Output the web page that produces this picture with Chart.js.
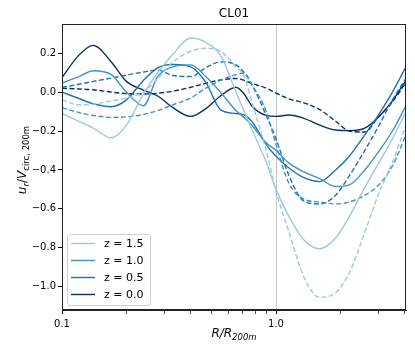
<!DOCTYPE html>
<html>
<head>
<meta charset="utf-8">
<script src="https://cdn.jsdelivr.net/npm/chart.js@4.4.0/dist/chart.umd.min.js"></script>
<style>
  html, body { margin: 0; padding: 0; background: #fff; }
</style>
</head>
<body>
<canvas id="myChart" width="415" height="356"></canvas>
<script>
// Data

var radius = [0.1, 0.12, 0.14, 0.17, 0.2, 0.24, 0.28, 0.33, 0.4, 0.47, 0.55, 0.65, 0.71, 0.77, 0.9, 1.0, 1.15, 1.35, 1.6, 1.9, 2.2, 2.6, 3.0, 3.5, 4.05];

var redshifts = ["1.5", "1.0", "0.5", "0.0"];

var z15Solid = [-0.11, -0.15, -0.185, -0.235, -0.17, -0.01, 0.1, 0.195, 0.278, 0.255, 0.19, 0.0, -0.1, -0.19, -0.36, -0.5, -0.64, -0.76, -0.805, -0.75, -0.64, -0.49, -0.37, -0.24, -0.1];
var z10Solid = [0.046, 0.08, 0.11, 0.09, 0.0, -0.07, 0.08, 0.13, 0.14, 0.08, 0.0, -0.095, -0.13, -0.17, -0.26, -0.3, -0.365, -0.41, -0.445, -0.485, -0.477, -0.4, -0.31, -0.2, -0.07];
var z05Solid = [0.0, -0.033, -0.06, -0.075, -0.04, 0.06, 0.125, 0.142, 0.13, 0.05, -0.09, -0.11, -0.117, -0.15, -0.27, -0.33, -0.39, -0.44, -0.46, -0.4, -0.33, -0.22, -0.12, 0.0, 0.13];
var z00Solid = [0.075, 0.19, 0.24, 0.155, 0.055, 0.01, -0.02, -0.08, -0.125, -0.085, -0.02, 0.025, -0.01, -0.07, -0.12, -0.125, -0.118, -0.135, -0.17, -0.195, -0.198, -0.185, -0.13, -0.045, 0.06];

var z15Dash = [-0.04, -0.065, -0.062, -0.045, -0.03, 0.0, 0.07, 0.155, 0.21, 0.225, 0.21, 0.13, 0.08, -0.05, -0.3, -0.51, -0.72, -0.95, -1.055, -1.03, -0.93, -0.72, -0.53, -0.36, -0.17];
var z10Dash = [-0.08, -0.105, -0.12, -0.13, -0.127, -0.115, -0.095, -0.065, -0.03, 0.02, 0.06, 0.09, 0.098, 0.04, -0.1, -0.27, -0.47, -0.55, -0.565, -0.575, -0.565, -0.53, -0.48, -0.38, -0.22];
var z05Dash = [0.025, 0.04, 0.055, 0.072, 0.087, 0.103, 0.113, 0.085, 0.08, 0.125, 0.155, 0.14, 0.1, 0.04, -0.12, -0.24, -0.43, -0.56, -0.575, -0.53, -0.43, -0.3, -0.18, -0.04, 0.07];
var z00Dash = [0.02, 0.016, 0.012, 0.0, -0.008, -0.01, -0.006, 0.005, 0.025, 0.045, 0.062, 0.07, 0.06, 0.045, 0.02, -0.005, -0.035, -0.055, -0.09, -0.15, -0.2, -0.205, -0.13, -0.05, 0.05];

var yTicks = [-1.0, -0.8, -0.6, -0.4, -0.2, 0.0, 0.2];
var xTicks = [0.1, 0.2, 0.3, 0.4, 0.5, 0.6, 0.7, 0.8, 0.9, 1, 2, 3, 4];
var xLabels = { "0.1": "0.1", "1": "1.0" };

var colors = ['#9cc9e1', '#4292c6', '#2171b5', '#08306b'];

var solidSeries = [z15Solid, z10Solid, z05Solid, z00Solid];
var dashSeries = [z15Dash, z10Dash, z05Dash, z00Dash];

function toPoints(arr) {
  return arr.map(function(v, i) { return { x: radius[i], y: v }; });
}

var datasets = [];
for (var i = 0; i < 4; i++) {
  datasets.push({
    label: 'z = ' + redshifts[i],
    data: toPoints(solidSeries[i]),
    borderColor: colors[i],
    borderWidth: 1.4,
    pointRadius: 0,
    cubicInterpolationMode: 'monotone',
    fill: false
  });
  datasets.push({
    label: '_dash' + i,
    data: toPoints(dashSeries[i]),
    borderColor: colors[i],
    borderWidth: 1.4,
    borderDash: [5, 2.5],
    pointRadius: 0,
    cubicInterpolationMode: 'monotone',
    fill: false
  });
}

// Extras: title, axis titles, frame, x=1 line, legend

var FONT = '"DejaVu Sans", sans-serif';

var extras = {
  id: 'extras',
  beforeDatasetsDraw: function(chart) {
    var ctx = chart.ctx, a = chart.chartArea;
    var x1 = chart.scales.x.getPixelForValue(1);
    ctx.save();
    ctx.strokeStyle = '#c4c4c4';
    ctx.lineWidth = 1;
    ctx.beginPath();
    ctx.moveTo(Math.round(x1) + 0.5, a.top);
    ctx.lineTo(Math.round(x1) + 0.5, a.bottom);
    ctx.stroke();
    ctx.restore();
  },
  afterDraw: function(chart) {
    var ctx = chart.ctx, a = chart.chartArea;
    ctx.save();

    // frame
    ctx.strokeStyle = '#222';
    ctx.lineWidth = 1;
    ctx.strokeRect(a.left + 0.5, a.top + 0.5, a.right - a.left - 1, a.bottom - a.top - 1);

    // title
    ctx.fillStyle = '#000';
    ctx.font = '12px ' + FONT;
    ctx.textAlign = 'center';
    ctx.textBaseline = 'alphabetic';
    ctx.fillText('CL01', (a.left + a.right) / 2, 17);

    // x axis title  R/R_200m
    var cx = (a.left + a.right) / 2;
    var parts = [
      { t: 'R/R', f: 'italic 12px ' + FONT, dy: 0 },
      { t: '200m', f: 'italic 8.5px ' + FONT, dy: 3 }
    ];
    drawParts(ctx, parts, cx, 337);

    // y axis title  u_r / V_circ,200m
    ctx.translate(22, 160);
    ctx.rotate(-Math.PI / 2);
    var yparts = [
      { t: 'u', f: 'italic 12px ' + FONT, dy: 0 },
      { t: 'r', f: 'italic 8.5px ' + FONT, dy: 3 },
      { t: '/', f: '12px ' + FONT, dy: 0 },
      { t: 'V', f: 'italic 12px ' + FONT, dy: 0 },
      { t: 'circ, 200m', f: '8.5px ' + FONT, dy: 3 }
    ];
    drawParts(ctx, yparts, 0, 4);
    ctx.setTransform(1, 0, 0, 1, 0, 0);

    // legend (solid lines only)
    var lx = 67, ly = 234, lw = 83, lh = 71;
    ctx.fillStyle = 'rgba(255,255,255,0.85)';
    ctx.strokeStyle = '#d0d0d0';
    ctx.lineWidth = 1;
    ctx.beginPath();
    ctx.roundRect(lx + 0.5, ly + 0.5, lw, lh, 3);
    ctx.fill();
    ctx.stroke();
    var rowY = [243.5, 260.5, 277.5, 294.5];
    ctx.font = '11px ' + FONT;
    ctx.textAlign = 'left';
    ctx.textBaseline = 'middle';
    chart.data.datasets.forEach(function(ds, k) {
      if (ds.label.charAt(0) === '_') return;
      var r = rowY[k / 2];
      ctx.strokeStyle = ds.borderColor;
      ctx.lineWidth = 1.4;
      ctx.beginPath();
      ctx.moveTo(71, r);
      ctx.lineTo(95, r);
      ctx.stroke();
      ctx.fillStyle = '#000';
      ctx.fillText(ds.label, 104, r + 0.5);
    });

    ctx.restore();
  }
};

function drawParts(ctx, parts, cx, baseY) {
  var total = 0;
  parts.forEach(function(p) { ctx.font = p.f; p.w = ctx.measureText(p.t).width; total += p.w; });
  var x = cx - total / 2;
  ctx.textAlign = 'left';
  ctx.textBaseline = 'alphabetic';
  ctx.fillStyle = '#000';
  parts.forEach(function(p) {
    ctx.font = p.f;
    ctx.fillText(p.t, x, baseY + p.dy);
    x += p.w;
  });
}

var ctx = document.getElementById('myChart').getContext('2d');

var chart = new Chart(ctx, {
  type: 'line',
  data: { datasets: datasets },
  options: {
    responsive: false,
    animation: false,
    layout: { padding: { top: 24, right: 9, left: 0, bottom: 0 } },
    plugins: {
      legend: { display: false },
      tooltip: { enabled: false }
    },
    scales: {
      x: {
        type: 'logarithmic',
        min: 0.1,
        max: 4.05,
        afterBuildTicks: function(scale) {
          scale.ticks = xTicks.map(function(v) { return { value: v }; });
        },
        afterFit: function(scale) { scale.height = 46; },
        ticks: {
          autoSkip: false,
          maxRotation: 0,
          padding: 4,
          color: '#000',
          font: { family: 'DejaVu Sans', size: 10 },
          callback: function(v) { return xLabels[String(v)] || ''; }
        },
        grid: {
          drawOnChartArea: false,
          drawTicks: true,
          tickLength: 4,
          color: '#000',
          tickWidth: function(c) { return xLabels[String(c.tick && c.tick.value)] ? 1 : 0.7; }
        },
        border: { display: true, color: '#222' }
      },
      y: {
        min: -1.12,
        max: 0.35,
        afterBuildTicks: function(scale) {
          scale.ticks = yTicks.map(function(v) { return { value: v }; });
        },
        afterFit: function(scale) { scale.width = 62; },
        ticks: {
          padding: 2,
          color: '#000',
          font: { family: 'DejaVu Sans', size: 10 },
          callback: function(v) {
            var s = Math.abs(v).toFixed(1);
            return v < -1e-9 ? '\u2212' + s : s;
          }
        },
        grid: {
          drawOnChartArea: false,
          drawTicks: true,
          tickLength: 4,
          color: '#000'
        },
        border: { display: true, color: '#222' }
      }
    }
  },
  plugins: [extras]
});
</script>
</body>
</html>
